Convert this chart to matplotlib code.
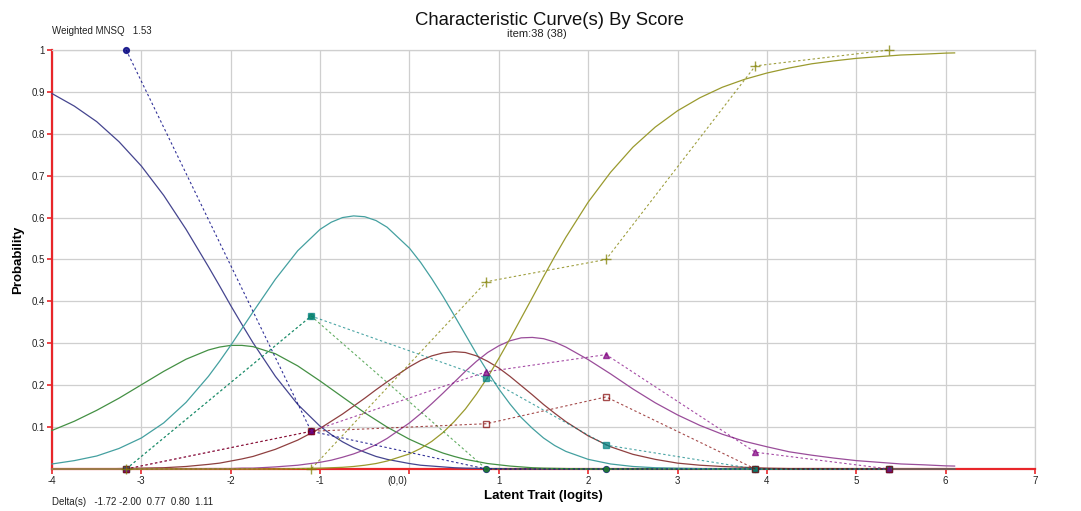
import matplotlib
matplotlib.use("Agg")
import matplotlib.pyplot as plt
import matplotlib.transforms as mtransforms

plt.rcParams['font.family'] = ['Liberation Sans', 'DejaVu Sans']

# model curves, probability of each score by latent trait (logits)
theta = [-4.0, -3.75, -3.5, -3.25, -3.0, -2.75, -2.5, -2.25, -2.125, -2.0, -1.875, -1.75,
         -1.5, -1.25, -1.0, -0.875, -0.75, -0.625, -0.5, -0.375, -0.25, 0.0, 0.125, 0.25,
         0.375, 0.5, 0.625, 0.75, 0.875, 1.0, 1.125, 1.25, 1.375, 1.5, 1.625, 1.75, 2.0,
         2.25, 2.5, 2.75, 3.0, 3.25, 3.5, 3.75, 4.0, 4.25, 4.5, 4.75, 5.0, 5.25, 5.5,
         5.75, 6.0, 6.1]
p_score0 = [0.896, 0.866, 0.829, 0.781, 0.723, 0.653, 0.572, 0.483, 0.437, 0.390, 0.345, 0.301,
            0.221, 0.154, 0.102, 0.082, 0.065, 0.051, 0.040, 0.030, 0.023, 0.013, 0.009, 0.007,
            0.005, 0.003, 0.002, 0.0015, 0.001, 0.001, 0.0, 0.0, 0.0, 0.0, 0.0, 0.0, 0.0,
            0.0, 0.0, 0.0, 0.0, 0.0, 0.0, 0.0, 0.0, 0.0, 0.0, 0.0, 0.0, 0.0, 0.0,
            0.0, 0.0, 0.0]
p_score1 = [0.092, 0.114, 0.140, 0.169, 0.201, 0.233, 0.262, 0.284, 0.291, 0.295, 0.295, 0.292,
            0.275, 0.246, 0.210, 0.191, 0.172, 0.153, 0.134, 0.117, 0.100, 0.071, 0.059, 0.048,
            0.038, 0.030, 0.023, 0.018, 0.013, 0.010, 0.007, 0.005, 0.003, 0.002, 0.0015, 0.001, 0.0,
            0.0, 0.0, 0.0, 0.0, 0.0, 0.0, 0.0, 0.0, 0.0, 0.0, 0.0, 0.0, 0.0, 0.0,
            0.0, 0.0, 0.0]
p_score2 = [0.012, 0.020, 0.031, 0.049, 0.074, 0.110, 0.159, 0.221, 0.257, 0.295, 0.335, 0.375,
            0.453, 0.521, 0.572, 0.589, 0.600, 0.604, 0.602, 0.593, 0.577, 0.527, 0.493, 0.454,
            0.412, 0.367, 0.321, 0.275, 0.232, 0.191, 0.155, 0.123, 0.097, 0.074, 0.056, 0.042, 0.023,
            0.012, 0.006, 0.003, 0.002, 0.001, 0.0, 0.0, 0.0, 0.0, 0.0, 0.0, 0.0, 0.0, 0.0,
            0.0, 0.0, 0.0]
p_score3 = [0.0, 0.0, 0.0, 0.001, 0.002, 0.003, 0.006, 0.011, 0.014, 0.019, 0.024, 0.030,
            0.047, 0.069, 0.097, 0.114, 0.131, 0.150, 0.169, 0.189, 0.208, 0.244, 0.259, 0.270,
            0.277, 0.280, 0.278, 0.270, 0.257, 0.241, 0.221, 0.199, 0.177, 0.154, 0.133, 0.113, 0.079,
            0.053, 0.035, 0.023, 0.014, 0.009, 0.006, 0.004, 0.002, 0.001, 0.001, 0.001, 0.0, 0.0, 0.0,
            0.0, 0.0, 0.0]
p_score4 = [0.0, 0.0, 0.0, 0.0, 0.0, 0.0, 0.0, 0.001, 0.001, 0.001, 0.002, 0.002,
            0.005, 0.009, 0.016, 0.021, 0.028, 0.036, 0.046, 0.058, 0.073, 0.110, 0.132, 0.156,
            0.181, 0.207, 0.233, 0.257, 0.278, 0.294, 0.306, 0.313, 0.314, 0.311, 0.303, 0.291, 0.261,
            0.227, 0.191, 0.158, 0.129, 0.104, 0.083, 0.066, 0.053, 0.041, 0.033, 0.026, 0.020, 0.016, 0.012,
            0.010, 0.0075, 0.007]
p_score5 = [0.0, 0.0, 0.0, 0.0, 0.0, 0.0, 0.0, 0.0, 0.0, 0.0, 0.0, 0.0,
            0.0, 0.001, 0.002, 0.003, 0.004, 0.006, 0.009, 0.013, 0.019, 0.036, 0.049, 0.066,
            0.087, 0.113, 0.143, 0.179, 0.219, 0.264, 0.311, 0.360, 0.409, 0.459, 0.507, 0.553, 0.637,
            0.708, 0.768, 0.816, 0.855, 0.886, 0.911, 0.930, 0.945, 0.957, 0.967, 0.974, 0.980, 0.984, 0.988,
            0.990, 0.9925, 0.993]

# observed proportions by ability group
x_obs = [-3.17, -1.10, 0.86, 2.20, 3.87, 5.37]
obs_score0 = [1.0, 0.09, 0.0, 0.0, 0.0, 0.0]
obs_score1 = [0.0, 0.365, 0.0, 0.0, 0.0, 0.0]
obs_score2 = [0.0, 0.365, 0.217, 0.057, 0.0, 0.0]
obs_score3 = [0.0, 0.09, 0.108, 0.172, 0.0, 0.0]
obs_score4 = [0.0, 0.09, 0.232, 0.273, 0.04, 0.0]
obs_score5 = [0.0, 0.0, 0.447, 0.5, 0.962, 1.0]

x_ticks = [-4, -3, -2, -1, 0, 1, 2, 3, 4, 5, 6, 7]
x_labels = ['-4', '-3', '-2', '-1', '', '1', '2', '3', '4', '5', '6', '7']
y_ticks = [0.1, 0.2, 0.3, 0.4, 0.5, 0.6, 0.7, 0.8, 0.9, 1.0]
y_labels = ['0.1', '0.2', '0.3', '0.4', '0.5', '0.6', '0.7', '0.8', '0.9', '1']

curve_colors = ['#45458f', '#449044', '#44a0a0', '#8f4040', '#9a4d9a', '#9a9a2e']
obs_colors = ['#000080', '#228b22', '#008080', '#800000', '#800080', '#808000']

fig = plt.figure(figsize=(10.81, 5.11), dpi=100)
ax = fig.add_axes([0.0481, 0.0822, 0.9094, 0.8200])

ax.set_xlim(-4, 7)
ax.set_ylim(0, 1)
ax.set_xticks(x_ticks)
ax.set_xticklabels(x_labels)
ax.set_yticks(y_ticks)
ax.set_yticklabels(y_labels)
ax.grid(True, color='#cfcfcf', linewidth=0.9)
ax.set_axisbelow(True)

for s in ['top', 'right']:
    ax.spines[s].set_color('#cfcfcf')
    ax.spines[s].set_linewidth(0.9)
for s in ['left', 'bottom']:
    ax.spines[s].set_color('#e8262a')
    ax.spines[s].set_linewidth(1.6)
ax.tick_params(axis='both', colors='#e8262a', length=3.5, width=1.2,
               labelsize=7, labelcolor='#222222', pad=1.5)

# model curves
curves = [p_score0, p_score1, p_score2, p_score3, p_score4, p_score5]
for vals, c in zip(curves, curve_colors):
    ax.plot(theta, vals, color=c, linewidth=0.9, zorder=3, clip_on=False)

# observed curves
dash = (0, (2.2, 2.2))
ax.plot(x_obs, obs_score0, color=obs_colors[0], linestyle=dash, linewidth=0.8, alpha=0.8,
        marker='o', markersize=4.2, zorder=4, clip_on=False)
ax.plot(x_obs, obs_score1, color=obs_colors[1], linestyle=dash, linewidth=0.8, alpha=0.7,
        marker='o', markersize=3.5, zorder=4, clip_on=False)
ax.plot(x_obs, obs_score2, color=obs_colors[2], linestyle=dash, linewidth=0.8, alpha=0.7,
        marker='s', markersize=4.2, zorder=4, clip_on=False)
ax.plot(x_obs, obs_score4, color=obs_colors[4], linestyle=dash, linewidth=0.8, alpha=0.7,
        marker='^', markersize=4.5, zorder=4, clip_on=False)
ax.plot(x_obs, obs_score3, color=obs_colors[3], linestyle=dash, linewidth=0.8, alpha=0.7,
        marker='s', markersize=4.5, markerfacecolor='none', zorder=4, clip_on=False)
ax.plot(x_obs, obs_score5, color=obs_colors[5], linestyle=dash, linewidth=0.8, alpha=0.75,
        marker='+', markersize=7, markeredgewidth=1.0, zorder=4, clip_on=False)

# "(0,0)" label sits a little left of the zero tick
trans = mtransforms.blended_transform_factory(ax.transData, ax.transAxes)
ax.text(-0.14, -0.0175, '(0,0)', transform=trans, ha='center', va='top',
        fontsize=7, color='#222222')

ax.set_xlabel('Latent Trait (logits)', fontsize=9.5, fontweight='bold', labelpad=3)
ax.set_ylabel('Probability', fontsize=9.5, fontweight='bold', labelpad=5)

fig.text(0.5083, 0.959, 'Characteristic Curve(s) By Score', ha='center', va='center',
         fontsize=13.3, color='#111111')
fig.text(0.497, 0.9325, 'item:38 (38)', ha='center', va='center', fontsize=8, color='#222222')
fig.text(0.0481, 0.939, 'Weighted MNSQ   1.53', ha='left', va='center', fontsize=7,
         color='#222222')
fig.text(0.0481, 0.008, 'Delta(s)   -1.72 -2.00  0.77  0.80  1.11', ha='left', va='bottom',
         fontsize=7, color='#222222')

fig.savefig('out.png', dpi=100)
